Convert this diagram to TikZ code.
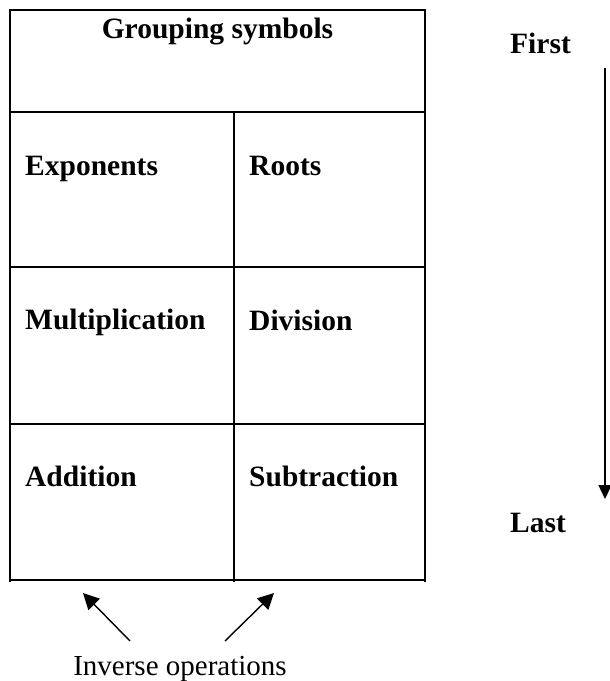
\documentclass[tikz,border=0pt]{standalone}
\usepackage{fontspec}
\setmainfont{Liberation Serif}
\usetikzlibrary{arrows.meta}
\tikzset{
  gridline/.style={line width=1.8pt, black},
  celltext/.style={anchor=base west, inner sep=0pt, font=\fontsize{29.5}{35}\selectfont\bfseries},
  headtext/.style={anchor=base, inner sep=0pt, font=\fontsize{29.5}{35}\selectfont\bfseries},
  plaintext/.style={anchor=base, inner sep=0pt, font=\fontsize{29}{35}\selectfont},
  arrowline/.style={line width=1.4pt, -{Triangle[length=14pt,width=13pt]}},
  diagarrow/.style={line width=1.4pt, -{Triangle[length=16pt,width=16pt]}}
}
\begin{document}
\begin{tikzpicture}[x=1pt,y=-1pt]
\useasboundingbox (0,0) rectangle (610,681);
% table
\draw[gridline] (10,10) rectangle (425,580);
\draw[gridline] (10,112) -- (425,112);
\draw[gridline] (10,267) -- (425,267);
\draw[gridline] (10,424) -- (425,424);
\draw[gridline] (234,112) -- (234,582);
\draw[gridline] (10,580) -- (10,582);
\draw[gridline] (425,580) -- (425,582);
% texts
\node[headtext] (grp) at (217.5,38) {Grouping symbols};
\node[celltext] (exp) at (25,175) {Exponents};
\node[celltext] (roots) at (249,175) {Roots};
\node[celltext] (mult) at (25,329) {Multiplication};
\node[celltext] (div) at (249,330) {Division};
\node[celltext] (add) at (25,486) {Addition};
\node[celltext] (sub) at (249,486) {Subtraction};
\node[celltext] (first) at (510,53) {First};
\node[celltext] (last) at (510,532) {Last};
\node[plaintext] (inv) at (180,675) {Inverse operations};
% arrows
\coordinate (ftop) at (605,68);
\coordinate (fbot) at (605,499);
\draw[arrowline] (ftop) -- (fbot);
\coordinate (ltail) at (130,641);
\coordinate (ltip) at (83,593);
\coordinate (rtail) at (225,641);
\coordinate (rtip) at (274,593);
\draw[diagarrow] (ltail) -- (ltip);
\draw[diagarrow] (rtail) -- (rtip);
\end{tikzpicture}
\end{document}
